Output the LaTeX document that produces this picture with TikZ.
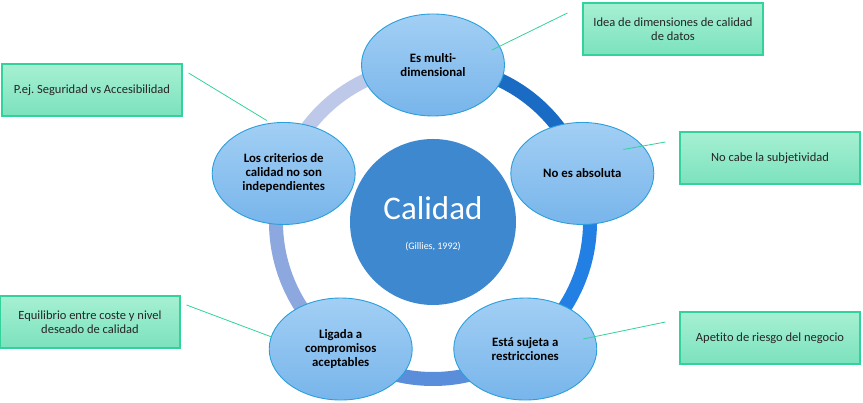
\documentclass[tikz,border=0pt]{standalone}
\usepackage{fontspec}
\setmainfont[Ligatures=NoCommon]{Carlito}
\usetikzlibrary{shapes.geometric,calc}
\definecolor{ringA}{HTML}{1A6BC4}
\definecolor{ringB}{HTML}{2280E4}
\definecolor{ringC}{HTML}{5A8EDB}
\definecolor{ringD}{HTML}{8DA8DE}
\definecolor{ringE}{HTML}{BEC8E8}
\definecolor{coreblue}{HTML}{3E88D0}
\definecolor{bubtop}{HTML}{A2CFF4}
\definecolor{bubbot}{HTML}{78B5EB}
\definecolor{bubline}{HTML}{2A9FDB}
\definecolor{notetop}{HTML}{A6F0D3}
\definecolor{notebot}{HTML}{7BE2BD}
\definecolor{noteline}{HTML}{33D29C}
\frenchspacing

\begin{document}
\begin{tikzpicture}[x=1pt, y=1pt,
    bubble/.style={ellipse, draw=bubline, line width=0.9pt, top color=bubtop, bottom color=bubbot,
        minimum width=143pt, minimum height=102pt, inner sep=0pt, align=center,
        font=\fontsize{12.8}{14}\selectfont\bfseries},
    note/.style={rectangle, draw=noteline, line width=1.1pt, top color=notetop, bottom color=notebot,
        minimum width=180pt, minimum height=52pt, inner sep=2pt, align=center, text=black!85,
        font=\fontsize{12.5}{14.3}\selectfont},
    ring/.style={line width=14pt},
    link/.style={draw=noteline, line width=0.8pt}
]
\useasboundingbox (0,0) rectangle (863,403);
\coordinate (ctr) at (433,181);

% Ring
\draw[ring, ringA] ($(ctr)+(90:157)$) arc[start angle=90, end angle=18, radius=157];
\draw[ring, ringB] ($(ctr)+(18:157)$) arc[start angle=18, end angle=-54, radius=157];
\draw[ring, ringC] ($(ctr)+(-54:157)$) arc[start angle=-54, end angle=-126, radius=157];
\draw[ring, ringD] ($(ctr)+(-126:157)$) arc[start angle=-126, end angle=-198, radius=157];
\draw[ring, ringE] ($(ctr)+(162:157)$) arc[start angle=162, end angle=90, radius=157];

% Core
\node[circle, fill=coreblue, minimum size=166pt, inner sep=0pt] (core) at (ctr) {};
\node[text=white, font=\fontsize{33}{38}\selectfont] (coretitle) at ($(ctr)+(0,14)$) {Calidad};
\node[text=white, font=\fontsize{10}{12}\selectfont] (coreref) at ($(ctr)+(0,-25)$) {(Gillies, 1992)};

% Criteria
\node[bubble] (multi) at ($(ctr)+(90:157)$) {Es multi-\\dimensional};
\node[bubble] (absol) at ($(ctr)+(18:157)$) {No es absoluta};
\node[bubble] (restr) at ($(ctr)+(-54:157)$) {Está sujeta a\\restricciones};
\node[bubble] (compr) at ($(ctr)+(-126:157)$) {Ligada a\\compromisos\\aceptables};
\node[bubble] (indep) at ($(ctr)+(162:157)$) {Los criterios de\\calidad no son\\independientes};

% Notes
\node[note] (dims) at (673,374) {Idea de dimensiones de calidad\\de datos};
\node[note] (subj) at (770,245) {No cabe la subjetividad};
\node[note] (risk) at (770,65) {Apetito de riesgo del negocio};
\node[note] (sec) at (92,313) {P.ej. Seguridad vs Accesibilidad};
\node[note] (cost) at (90,81) {Equilibrio entre coste y nivel\\deseado de calidad};

% Links
\coordinate (dimsIn) at ($(multi)+(59,15)$);
\coordinate (dimsOut) at ($(dims.west)+(-15,16)$);
\coordinate (subjIn) at ($(absol)+(41,24)$);
\coordinate (subjOut) at ($(subj.west)+(-14,16)$);
\coordinate (riskIn) at ($(restr)+(58,10)$);
\coordinate (riskOut) at ($(risk.west)+(-14,16)$);
\coordinate (secIn) at ($(indep)+(-17,53)$);
\coordinate (secOut) at ($(sec.east)+(6,17)$);
\coordinate (costIn) at ($(compr)+(-69,12)$);
\coordinate (costOut) at ($(cost.east)+(6,17)$);
\draw[link] (dimsIn) -- (dimsOut);
\draw[link] (subjIn) -- (subjOut);
\draw[link] (riskIn) -- (riskOut);
\draw[link] (secIn) -- (secOut);
\draw[link] (costIn) -- (costOut);
\end{tikzpicture}
\end{document}
